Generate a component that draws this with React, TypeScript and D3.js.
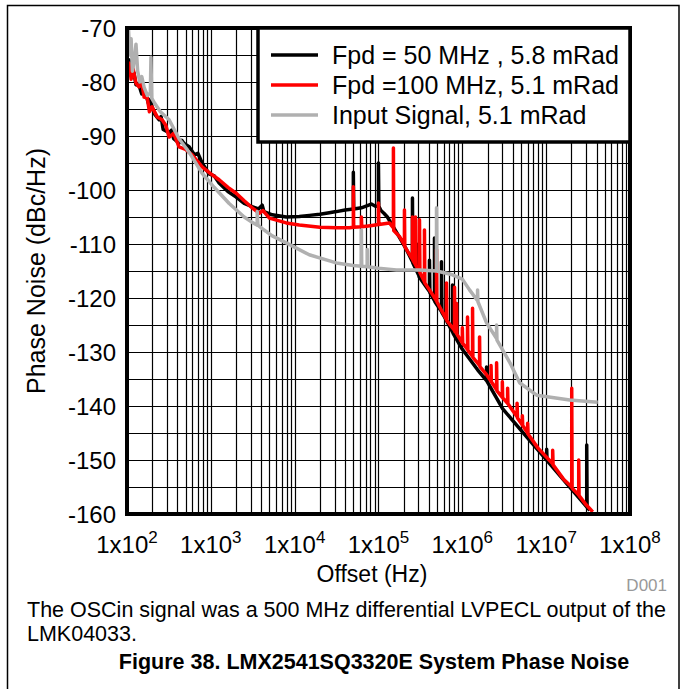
import React from 'react';
import * as d3 from 'd3';

type Pt = [number, number];

const yTicks = [-70, -80, -90, -100, -110, -120, -130, -140, -150, -160];
const xDecades = [2, 3, 4, 5, 6, 7, 8];

const legendLabels = ['Fpd = 50 MHz , 5.8 mRad', 'Fpd =100 MHz, 5.1 mRad', 'Input Signal, 5.1 mRad'];
const seriesColors = ['#000000', '#ff0000', '#b0b0b0'];

const fpd50: Pt[] = [
  [100, -76.5], [106, -75.9], [112, -78.5], [121, -78.3], [128, -80.5], [139, -80.6], [150, -82.2],
  [158, -81.2], [169, -82.4], [180, -84], [190, -83.2], [199, -84.6], [215, -86], [241, -87], [255, -86.4],
  [270, -88.8], [318, -89.4], [340, -88.9], [360, -90.5], [418, -91.3], [450, -90.8], [480, -91.4],
  [550, -92], [640, -93.5], [700, -93.2], [787, -95], [950, -97], [1100, -97.4],
  [1256, -98.7], [1600, -100.3], [2006, -101.3], [2500, -102.5], [3114, -103.1], [3700, -103.5],
  [4100, -102.8], [4300, -104], [5400, -104.6], [7943, -105], [11350, -104.9], [15000, -104.7],
  [20000, -104.5], [25880, -104.2], [31400, -104], [40000, -103.7], [50100, -103.5], [50100, -96.7],
  [50600, -103.5], [62500, -103.3], [73700, -102.9], [82200, -102.6], [92000, -103], [99800, -103],
  [99800, -95], [101000, -103], [107000, -103.8], [116000, -104.3], [127600, -105], [163600, -107.8],
  [215000, -111], [254100, -113.3], [254100, -101.5], [257000, -113.5], [300000, -115.7], [300000, -110],
  [304000, -116], [354000, -117.5], [405500, -118.8], [405500, -113], [410000, -119], [465500, -120.5],
  [465500, -108.9], [471000, -120.7], [563900, -122.5], [563900, -113.3], [570000, -122.7],
  [612400, -123.5], [763700, -126.3], [763700, -117.6], [773000, -126.5], [1000000, -129.5],
  [1520000, -133.3], [1945000, -135.3], [1945000, -132.8], [1965000, -135.4], [3020000, -140.5],
  [5848000, -145.7], [10140000, -150], [10140000, -148], [10250000, -150.1], [19100000, -155],
  [30460000, -158.7], [30460000, -147.2], [30800000, -158.8], [33110000, -159.3],
];

const fpd100: Pt[] = [
  [100, -77], [106, -76.5], [112, -79.5], [118, -77.5], [128, -80.2], [139, -80.9], [150, -80],
  [160, -82.8], [175, -83], [185, -85.5], [199, -84.6], [230, -86.5], [262, -87], [290, -88], [318, -90.2],
  [360, -89.5], [418, -92], [500, -92.5], [600, -93.5], [787, -95.7], [1000, -97], [1256, -98.1],
  [1600, -99.5], [2006, -100.6], [2500, -102], [3114, -103.3], [3776, -104.3], [4200, -103.8],
  [5000, -105.2], [7943, -106.1], [11350, -106.5], [20000, -106.9], [31400, -107], [45000, -107],
  [50100, -106.9], [50100, -99.4], [50600, -106.9], [62500, -106.8], [62500, -105], [63100, -106.8],
  [80000, -106.6], [99800, -106.4], [99800, -102.4], [101000, -106.4], [134900, -106.1],
  [150600, -107], [150600, -92.2], [152000, -107.5], [177800, -108.6], [203900, -110.2],
  [203900, -103.7], [206000, -110.5], [254100, -112.8], [254100, -105], [257000, -113],
  [276100, -113.8], [276100, -105], [279000, -114], [308300, -115], [308300, -105.5], [312000, -115.3],
  [353300, -117], [353300, -107.4], [357000, -117.2], [405500, -118.5], [492000, -120.5],
  [492000, -111], [497000, -120.7], [647400, -124], [647400, -117.2], [654000, -124.2],
  [807200, -126], [807200, -118], [815000, -126.2], [853000, -126.5], [853000, -121], [861000, -126.7],
  [1000000, -128.3], [1000000, -125.5], [1010000, -128.4],
  [1153000, -129.5], [1153000, -123.5], [1165000, -129.7], [1324000, -130.8], [1324000, -121.9],
  [1337000, -131], [1605000, -132.5], [1605000, -127.2], [1620000, -132.7], [1945000, -134.2],
  [2200000, -135.4], [2200000, -132.5], [2220000, -135.5],
  [2562000, -137], [2562000, -132], [2590000, -137.2], [3000000, -138.4], [3000000, -135.5], [3030000, -138.5],
  [3468000, -139.5], [3468000, -136.7], [3500000, -139.6], [4500000, -142], [4500000, -139.5], [4550000, -142.2],
  [5200000, -143.5], [5200000, -141.8], [5250000, -143.6], [6012000, -145],
  [6012000, -143.2], [6080000, -145.2], [8000000, -147.8], [11960000, -150.7], [11960000, -148.2],
  [12100000, -150.9], [16000000, -153.5], [20180000, -155], [20180000, -136.7], [20400000, -155.2],
  [24450000, -156.5], [24450000, -150], [24700000, -156.6], [30000000, -158.3], [35950000, -159.6],
];

const inputSignal: Pt[] = [
  [100, -74], [104, -70], [108, -75], [112, -72], [116, -78], [122, -76], [128, -73], [134, -78],
  [142, -80], [150, -79], [160, -81], [175, -82.5], [190, -82], [193, -75.4], [197, -83], [215, -84],
  [250, -85.5], [318, -87], [418, -90.5], [550, -93], [787, -96.9], [1094, -99.5], [1655, -102.5],
  [2500, -105], [3114, -106], [3574, -106.5], [3574, -104], [3650, -106.5], [3990, -107],
  [5400, -108.5], [7943, -109.8], [14930, -112], [31400, -113.5], [50000, -114], [62500, -114.1],
  [62500, -107.4], [63100, -114.1], [73700, -114.2], [73700, -111], [74400, -114.2], [99800, -114.5],
  [163600, -114.8], [308300, -114.8], [492000, -115], [492000, -103.3], [497000, -115],
  [763700, -115.7], [1000000, -116.5], [1219000, -118.5], [1520000, -120.5], [1520000, -118.5],
  [1535000, -120.7], [1945000, -124.6], [2562000, -127.5], [2562000, -125], [2590000, -127.8],
  [3373000, -130.9], [3700000, -132], [4822000, -135.7], [7703000, -138], [19100000, -138.9],
  [41240000, -139.3],
];

const series = [fpd50, fpd100, inputSignal];

const FONT = 'Liberation Sans, Arial, Helvetica, sans-serif';

export default function App() {
  const left = 127, right = 630, top = 28, bottom = 514;
  const x = d3.scaleLog().domain([1e2, 1e8]).range([left, right]);
  const y = d3.scaleLinear().domain([-160, -70]).range([bottom, top]);
  const line = d3.line<Pt>().x(d => x(d[0])).y(d => y(d[1]));

  const vGrid: number[] = [];
  for (let e = 2; e < 8; e++) for (let k = 1; k < 10; k++) vGrid.push(k * Math.pow(10, e));
  const hGrid = d3.range(-160, -69, 5);

  const legX = 258, legY = 28, legW = 630 - 258, legH = 114;

  return (
    <svg width={683} height={689} style={{ position: 'absolute', left: 0, top: 0, background: '#fff' }} fontFamily={FONT}>
      <rect x={0} y={0} width={683} height={689} fill="#fff" />
      <rect x={7.5} y={5.5} width={671.5} height={700} fill="none" stroke="#000" strokeWidth={1.5} />
      <defs>
        <clipPath id="plotclip">
          <rect x={left} y={top} width={right - left} height={bottom - top} />
        </clipPath>
      </defs>
      {vGrid.map((v, i) => (
        <line key={'v' + i} x1={Math.round(x(v)) + 0.5} x2={Math.round(x(v)) + 0.5} y1={top} y2={bottom} stroke="#000" strokeWidth={1.2} />
      ))}
      {hGrid.map((v, i) => (
        <line key={'h' + i} x1={left} x2={right} y1={Math.round(y(v)) + 0.5} y2={Math.round(y(v)) + 0.5} stroke="#000" strokeWidth={1.2} />
      ))}
      <g clipPath="url(#plotclip)" fill="none" strokeLinejoin="round">
        {series.map((s, i) => (
          <path key={i} d={line(s) || ''} stroke={seriesColors[i]} strokeWidth={3.5} />
        ))}
      </g>
      <rect x={left} y={top} width={right - left} height={bottom - top} fill="none" stroke="#000" strokeWidth={4} />
      <rect x={legX} y={legY} width={legW} height={legH} fill="#fff" stroke="#000" strokeWidth={3.5} />
      {legendLabels.map((t, i) => (
        <g key={t}>
          <line x1={271} x2={318} y1={55 + i * 30} y2={55 + i * 30} stroke={seriesColors[i]} strokeWidth={3.5} />
          <text x={332} y={55 + i * 30 + 9} fontSize={25} fill="#000">{t}</text>
        </g>
      ))}
      {yTicks.map(t => (
        <text key={t} x={116} y={y(t) + 8.5} fontSize={24} textAnchor="end" fill="#000">{t}</text>
      ))}
      {xDecades.map(e => (
        <text key={e} x={x(Math.pow(10, e))} y={553} fontSize={24} textAnchor="middle" fill="#000">
          1x10<tspan dy={-10} fontSize={17}>{e}</tspan>
        </text>
      ))}
      <text x={372} y={582} fontSize={23} textAnchor="middle" fill="#000">Offset (Hz)</text>
      <text transform="translate(45,271) rotate(-90)" fontSize={25} textAnchor="middle" fill="#000">Phase Noise (dBc/Hz)</text>
      <text x={667} y={591} fontSize={17} textAnchor="end" fill="#999">D001</text>
      <text x={27} y={617} fontSize={21.5} fill="#000">The OSCin signal was a 500 MHz differential LVPECL output of the</text>
      <text x={27} y={641} fontSize={21.5} fill="#000">LMK04033.</text>
      <text x={374} y={669} fontSize={21.5} fontWeight="bold" textAnchor="middle" fill="#000">Figure 38. LMX2541SQ3320E System Phase Noise</text>
    </svg>
  );
}
